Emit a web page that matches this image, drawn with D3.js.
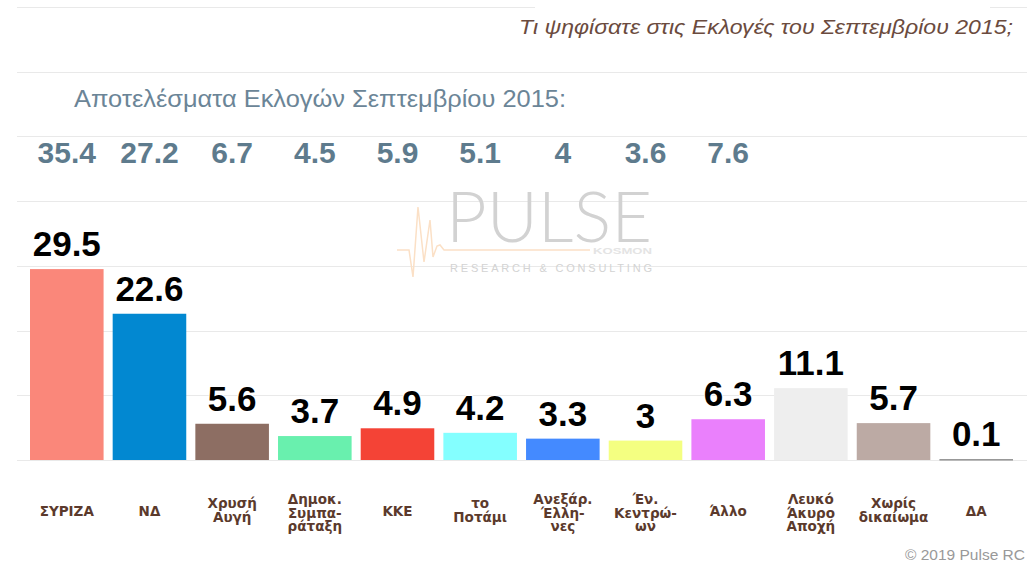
<!DOCTYPE html>
<html>
<head>
<meta charset="utf-8">
<script src="https://cdn.jsdelivr.net/npm/d3@7"></script>
<style>
  body { margin: 0; background: #fff; }
  svg { display: block; }
</style>
</head>
<body>
<script>
// poll answers (bars) and the official Sept 2015 results (top row)
const parties = ["ΣΥΡΙΖΑ", "ΝΔ", "Χρυσή Αυγή", "Δημοκ. Συμπαράταξη", "ΚΚΕ", "το Ποτάμι",
                 "Ανεξάρ. Έλληνες", "Έν. Κεντρώων", "Άλλο", "Λευκό Άκυρο Αποχή", "Χωρίς δικαίωμα", "ΔΑ"];
const labelLines = [["ΣΥΡΙΖΑ"], ["ΝΔ"], ["Χρυσή", "Αυγή"], ["Δημοκ.", "Συμπα-", "ράταξη"], ["ΚΚΕ"],
                    ["το", "Ποτάμι"], ["Ανεξάρ.", "Έλλη-", "νες"], ["Έν.", "Κεντρώ-", "ων"], ["Άλλο"],
                    ["Λευκό", "Άκυρο", "Αποχή"], ["Χωρίς", "δικαίωμα"], ["ΔΑ"]];
const pollValues = [29.5, 22.6, 5.6, 3.7, 4.9, 4.2, 3.3, 3, 6.3, 11.1, 5.7, 0.1];
const electionResults = [35.4, 27.2, 6.7, 4.5, 5.9, 5.1, 4, 3.6, 7.6, null, null, null];
const barColors = ["#fa877a", "#0288d1", "#8d6e63", "#69f0ae", "#f44336", "#84ffff",
                   "#448aff", "#f4ff81", "#ea80fc", "#eeeeee", "#bcaaa4", "#616161"];
const gridTicks = [0, 10, 20, 30, 40, 50, 60, 70];

const W = 1027, H = 564;
const svg = d3.select("body").append("svg").attr("width", W).attr("height", H);

const x = d3.scaleBand().domain(parties).range([30, 1013]).paddingInner(0.11).paddingOuter(0);
const y = d3.scaleLinear().domain([0, 70]).range([460, 7]);

// grid
svg.append("g").selectAll("line").data(gridTicks).enter().append("line")
  .attr("x1", 17).attr("x2", W)
  .attr("y1", d => Math.round(y(d)) + 0.5).attr("y2", d => Math.round(y(d)) + 0.5)
  .attr("stroke", "#e9e9e9").attr("stroke-width", 1);

// title box hides the top grid line
svg.append("rect").attr("x", 535).attr("y", 0).attr("width", 455).attr("height", 45).attr("fill", "#fff");
svg.append("text")
  .attr("x", 1013).attr("y", 34).attr("text-anchor", "end")
  .attr("textLength", 494).attr("lengthAdjust", "spacingAndGlyphs")
  .style("font-family", "Liberation Sans, Arial, sans-serif").style("font-style", "italic")
  .style("font-size", "20px").attr("fill", "#6b4b3e")
  .text("Τι ψηφίσατε στις Εκλογές του Σεπτεμβρίου 2015;");

svg.append("text")
  .attr("x", 74).attr("y", 107)
  .attr("textLength", 492).attr("lengthAdjust", "spacingAndGlyphs")
  .style("font-family", "Liberation Sans, Arial, sans-serif")
  .style("font-size", "23px").attr("fill", "#6b8597")
  .text("Αποτελέσματα Εκλογών Σεπτεμβρίου 2015:");

// watermark
const wm = svg.append("g");
wm.append("path")
  .attr("d", "M397,250 L409,250 L413,277 L418,207 L424,262 L430,220 L433,257 L437,246 L440,245 L444,250 L590,250")
  .attr("fill", "none").attr("stroke", "#fbe0c6").attr("stroke-width", 1.5);
wm.append("text").attr("x", 446).attr("y", 242)
  .attr("textLength", 206).attr("lengthAdjust", "spacingAndGlyphs")
  .style("font-family", "Lato, sans-serif").style("font-weight", 300)
  .style("font-size", "70px").attr("fill", "#d2d2d2").text("PULSE");
wm.append("text").attr("x", 593).attr("y", 254)
  .attr("textLength", 59).attr("lengthAdjust", "spacingAndGlyphs")
  .style("font-family", "Liberation Sans, sans-serif").style("font-weight", "bold")
  .style("font-size", "9px").attr("fill", "#e4e4e4").text("KOSMON");
wm.append("text").attr("x", 450).attr("y", 272)
  .attr("textLength", 202).attr("lengthAdjust", "spacing")
  .style("font-family", "Liberation Sans, sans-serif")
  .style("font-size", "11px").attr("fill", "#d3d3d3").text("RESEARCH & CONSULTING");

// top row: official results
svg.append("g").selectAll("text").data(parties.map((p, i) => ({p, v: electionResults[i]})).filter(d => d.v !== null))
  .enter().append("text")
  .attr("x", d => x(d.p) + x.bandwidth() / 2).attr("y", 163)
  .attr("text-anchor", "middle")
  .style("font-family", "Liberation Sans, Arial, sans-serif").style("font-weight", "bold")
  .style("font-size", "30px").attr("fill", "#5e7b8d")
  .text(d => d.v);

// bars
const data = parties.map((p, i) => ({p, v: pollValues[i], c: barColors[i], lines: labelLines[i]}));
svg.append("g").selectAll("rect").data(data).enter().append("rect")
  .attr("x", d => x(d.p)).attr("width", x.bandwidth())
  .attr("y", d => y(d.v)).attr("height", d => Math.max(1, y(0) - y(d.v)))
  .attr("fill", d => d.c);

// value labels
svg.append("g").selectAll("text").data(data).enter().append("text")
  .attr("x", d => x(d.p) + x.bandwidth() / 2).attr("y", d => y(d.v) - 13)
  .attr("text-anchor", "middle")
  .style("font-family", "Liberation Sans, Arial, sans-serif").style("font-weight", "bold")
  .style("font-size", "35px").attr("fill", "#000")
  .attr("stroke", "#fff").attr("stroke-width", 2).style("paint-order", "stroke")
  .text(d => d.v);

// category labels
const lh = 13.5;
svg.append("g").selectAll("text").data(data).enter().append("text")
  .attr("text-anchor", "middle")
  .style("font-family", "DejaVu Sans, Verdana, sans-serif").style("font-weight", "bold")
  .style("font-size", "13.5px").attr("fill", "#5b3a2c")
  .each(function(d) {
    const n = d.lines.length;
    const y0 = n === 1 ? 516 : (n === 2 ? 508 : 504);
    d3.select(this).selectAll("tspan").data(d.lines).enter().append("tspan")
      .attr("x", x(d.p) + x.bandwidth() / 2)
      .attr("y", (l, i) => y0 + i * lh)
      .text(l => l);
  });

// credits
svg.append("text").attr("x", 905).attr("y", 560)
  .style("font-family", "Liberation Sans, Arial, sans-serif")
  .style("font-size", "15.5px").attr("fill", "#999")
  .text("© 2019 Pulse RC");
</script>
</body>
</html>
